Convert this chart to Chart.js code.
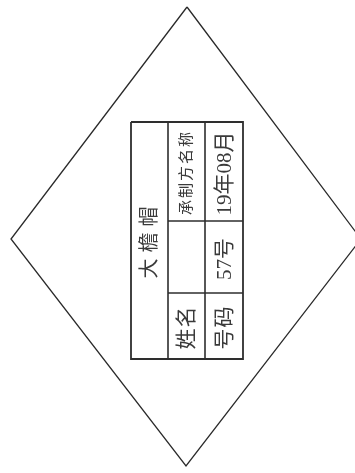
<!DOCTYPE html>
<html>
<head>
<meta charset="utf-8">
<script src="https://cdn.jsdelivr.net/npm/chart.js@4"></script>
<style>
  html, body { margin: 0; padding: 0; background: #fff; }
  #wrap { width: 355px; height: 473px; }
</style>
</head>
<body>
<div id="wrap"><canvas id="badge" width="355" height="473"></canvas></div>
<script>
// diamond outline (chart units = page pixels)
const diamondX = [187, 361, 186, 11, 187];
const diamondY = [7, 239, 466, 239, 7];

// table grid
const colEdges = [131, 168, 205, 243];
const rowEdges = [122, 221, 293, 359];

// cell texts: column, first row, last row, text
const cellCols = [0, 1, 1, 1, 2, 2, 2];
const cellRowFrom = [0, 0, 1, 2, 0, 1, 2];
const cellRowTo = [2, 0, 1, 2, 0, 1, 2];
const cellTexts = ['大檐帽', '承制方名称', '', '姓名', '19年08月', '57号', '号码'];
const cellFontSize = [20, 15, 20, 21, 21, 21, 21];
const cellSpacing = [6, 2, 0, 1, 0, 0, 1];

function seg(x1, y1, x2, y2, width) {
  return {
    data: [{ x: x1, y: y1 }, { x: x2, y: y2 }],
    showLine: true,
    borderColor: '#2e2e2e',
    borderWidth: width,
    pointRadius: 0,
    fill: false
  };
}

const datasets = [];
datasets.push({
  data: diamondX.map((x, i) => ({ x: x, y: diamondY[i] })),
  showLine: true,
  borderColor: '#2a2a2a',
  borderWidth: 1.3,
  pointRadius: 0,
  fill: false
});

const x0 = colEdges[0], x3 = colEdges[3];
const y0 = rowEdges[0], y3 = rowEdges[3];
// outer frame
datasets.push({
  data: [{ x: x0, y: y0 }, { x: x3, y: y0 }, { x: x3, y: y3 }, { x: x0, y: y3 }, { x: x0, y: y0 }],
  showLine: true,
  borderColor: '#2e2e2e',
  borderWidth: 1.8,
  pointRadius: 0,
  fill: false
});
// inner vertical lines
datasets.push(seg(colEdges[1], y0, colEdges[1], y3, 1.6));
datasets.push(seg(colEdges[2], y0, colEdges[2], y3, 1.6));
// inner horizontal lines (columns 2-3 only)
datasets.push(seg(colEdges[1], rowEdges[1], x3, rowEdges[1], 1.6));
datasets.push(seg(colEdges[1], rowEdges[2], x3, rowEdges[2], 1.6));

function drawVertical(ctx, text, cx, cy, size, spacing) {
  ctx.save();
  ctx.translate(cx, cy);
  ctx.rotate(-Math.PI / 2);
  ctx.font = size + 'px "Liberation Serif", "Noto Sans CJK SC", serif';
  ctx.fillStyle = '#3a3a3a';
  ctx.textAlign = 'left';
  ctx.textBaseline = 'middle';
  const chars = Array.from(text);
  const widths = chars.map(c => ctx.measureText(c).width);
  const total = widths.reduce((a, b) => a + b, 0) + spacing * (chars.length - 1);
  let x = -total / 2;
  chars.forEach((c, i) => {
    ctx.fillText(c, x, 0);
    x += widths[i] + spacing;
  });
  ctx.restore();
}

const cellTextPlugin = {
  id: 'cellText',
  afterDatasetsDraw(chart) {
    const ctx = chart.ctx;
    const xs = chart.scales.x, ys = chart.scales.y;
    cellTexts.forEach((t, i) => {
      if (!t) return;
      const cx = (xs.getPixelForValue(colEdges[cellCols[i]]) + xs.getPixelForValue(colEdges[cellCols[i] + 1])) / 2;
      const cy = (ys.getPixelForValue(rowEdges[cellRowFrom[i]]) + ys.getPixelForValue(rowEdges[cellRowTo[i] + 1])) / 2;
      drawVertical(ctx, t, cx + 1, cy + 2, cellFontSize[i], cellSpacing[i]);
    });
  }
};

new Chart(document.getElementById('badge'), {
  type: 'scatter',
  data: { datasets: datasets },
  options: {
    responsive: false,
    animation: false,
    devicePixelRatio: 1,
    layout: { padding: 0 },
    scales: {
      x: { type: 'linear', min: 0, max: 355, display: false },
      y: { type: 'linear', min: 0, max: 473, reverse: true, display: false }
    },
    plugins: {
      legend: { display: false },
      tooltip: { enabled: false }
    }
  },
  plugins: [cellTextPlugin]
});
</script>
</body>
</html>
